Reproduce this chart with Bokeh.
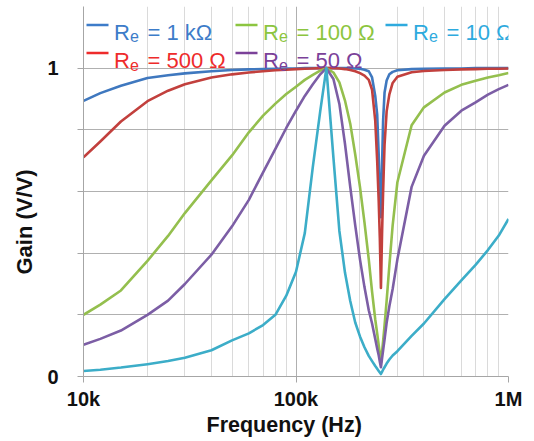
import math
from bokeh.plotting import figure
from bokeh.models import FixedTicker, Label, BoxAnnotation, Range1d, Title
from bokeh.embed import file_html
from bokeh.resources import INLINE

# ---------------- data ----------------
freq_khz = [10, 12, 15, 20, 25, 30, 40, 50, 60, 70, 80, 90, 100,
            110, 120, 130, 139, 150, 160, 170, 180, 190, 200,
            210, 220, 228, 236, 241, 245, 248, 251,
            254, 257, 261, 267, 275, 285, 300,
            350, 400, 500, 600, 700, 800, 900, 1000]

gain_1k = [0.894, 0.919, 0.943, 0.968, 0.977, 0.983, 0.990, 0.994, 0.996, 0.997, 0.998, 0.999, 0.999,
           1.0, 1.0, 1.0, 1.0, 1.0, 1.0, 1.0, 1.0, 0.999, 0.998,
           0.995, 0.99, 0.97, 0.91, 0.85, 0.72, 0.60, 0.517,
           0.68, 0.83, 0.92, 0.96, 0.98, 0.988, 0.993,
           0.997, 0.998, 0.999, 0.999, 1.0, 1.0, 1.0, 1.0]

gain_500 = [0.711, 0.762, 0.827, 0.893, 0.927, 0.948, 0.970, 0.980, 0.986, 0.990, 0.993, 0.995, 0.997,
            0.998, 0.999, 1.0, 1.0, 1.0, 0.999, 0.997, 0.994, 0.99, 0.984,
            0.976, 0.962, 0.93, 0.83, 0.70, 0.57, 0.45, 0.287,
            0.46, 0.60, 0.75, 0.86, 0.915, 0.952, 0.972,
            0.987, 0.991, 0.994, 0.996, 0.997, 0.998, 0.998, 0.999]

gain_100 = [0.200, 0.233, 0.279, 0.375, 0.456, 0.530, 0.636, 0.717, 0.792, 0.846, 0.885, 0.916, 0.940,
            0.962, 0.978, 0.992, 1.0, 0.986, 0.954, 0.895, 0.820, 0.720, 0.615,
            0.500, 0.380, 0.275, 0.185, 0.140, 0.102, 0.073, 0.045,
            0.080, 0.115, 0.165, 0.245, 0.360, 0.490, 0.630,
            0.815, 0.873, 0.921, 0.946, 0.959, 0.970, 0.977, 0.984]

gain_50 = [0.103, 0.122, 0.149, 0.200, 0.246, 0.300, 0.395, 0.487, 0.573, 0.662, 0.738, 0.806, 0.862,
           0.910, 0.948, 0.980, 1.0, 0.965, 0.884, 0.755, 0.615, 0.490, 0.380,
           0.290, 0.215, 0.172, 0.122, 0.091, 0.069, 0.048, 0.030,
           0.058, 0.085, 0.120, 0.174, 0.228, 0.284, 0.380,
           0.615, 0.716, 0.813, 0.862, 0.889, 0.914, 0.932, 0.946]

gain_10 = [0.018, 0.022, 0.029, 0.040, 0.050, 0.061, 0.085, 0.117, 0.140, 0.167, 0.200, 0.262, 0.340,
           0.465, 0.680, 0.860, 1.0, 0.710, 0.472, 0.337, 0.245, 0.175, 0.130,
           0.095, 0.067, 0.050, 0.034, 0.025, 0.018, 0.013, 0.008,
           0.015, 0.022, 0.030, 0.042, 0.055, 0.068, 0.082,
           0.132, 0.172, 0.251, 0.312, 0.362, 0.410, 0.457, 0.511]

series_names = ["1 k\u03a9", "500 \u03a9", "100 \u03a9", "50 \u03a9", "10 \u03a9"]
series_gains = [gain_1k, gain_500, gain_100, gain_50, gain_10]
line_colors = ["#3f78bf", "#c2403d", "#94bf4e", "#7c5ea5", "#3cadc8"]
text_colors = ["#3d7cc9", "#ee2b2b", "#8cc540", "#7b4199", "#2eaade"]

x_tick_values = [1e4, 1e5, 1e6]
x_tick_labels = ["10k", "100k", "1M"]
x_minor_values = [2e4, 3e4, 4e4, 5e4, 6e4, 7e4, 8e4, 9e4,
                  2e5, 3e5, 4e5, 5e5, 6e5, 7e5, 8e5, 9e5]
y_tick_values = [0, 1]
y_tick_labels = ["0", "1"]
y_grid_values = [0.2, 0.4, 0.6, 0.8, 1.0]

x_title = "Frequency (Hz)"
y_title = "Gain (V/V)"

# ---------------- figure ----------------
FONT = "Liberation Sans"
L, R, T, B = 83, 26, 6, 65
W, H = 534, 441

p = figure(width=W, height=H, x_axis_type="log",
           x_range=Range1d(1e4, 1e6), y_range=Range1d(0, 1.2),
           output_backend="svg", toolbar_location=None,
           min_border_left=L, min_border_right=R, min_border_top=T, min_border_bottom=B)
p.outline_line_color = None
p.background_fill_color = "white"
p.border_fill_color = "white"

freq_hz = [f * 1000 for f in freq_khz]
for name, g, c in zip(series_names, series_gains, line_colors):
    p.line(freq_hz, g, line_color=c, line_width=2.6, line_join="round")

# axes
xa = p.xaxis[0]
xa.ticker = FixedTicker(ticks=x_tick_values, minor_ticks=x_minor_values)
xa.major_label_overrides = {v: s for v, s in zip(x_tick_values, x_tick_labels)}
xa.axis_line_color = "#a6a6a6"
xa.major_tick_line_color = "#a6a6a6"
xa.major_tick_out = 6
xa.major_tick_in = 0
xa.minor_tick_line_color = None
xa.major_label_text_font = FONT
xa.major_label_text_font_style = "bold"
xa.major_label_text_font_size = "20px"
xa.major_label_text_color = "#111111"
xa.major_label_standoff = 5

ya = p.yaxis[0]
ya.ticker = FixedTicker(ticks=y_tick_values, minor_ticks=y_grid_values[:-1])
ya.major_label_overrides = {v: s for v, s in zip(y_tick_values, y_tick_labels)}
ya.axis_line_color = "#a6a6a6"
ya.major_tick_line_color = "#a6a6a6"
ya.minor_tick_line_color = "#a6a6a6"
ya.major_tick_out = 6
ya.major_tick_in = 0
ya.minor_tick_out = 6
ya.minor_tick_in = 0
ya.major_label_text_font = FONT
ya.major_label_text_font_style = "bold"
ya.major_label_text_font_size = "20px"
ya.major_label_text_color = "#111111"
ya.major_label_standoff = 19

p.xgrid.ticker = FixedTicker(ticks=x_tick_values, minor_ticks=x_minor_values)
p.xgrid.grid_line_color = "#b0b0b0"
p.xgrid.minor_grid_line_color = "#dadada"
p.ygrid.ticker = FixedTicker(ticks=y_grid_values)
p.ygrid.grid_line_color = "#b0b0b0"

# axis titles (placed in side panels so they are not clipped)
p.add_layout(Title(text=x_title, align="left", offset=123, vertical_align="top", standoff=0,
                   text_font=FONT, text_font_style="bold", text_font_size="21.5px",
                   text_color="#111111"), "below")
p.add_layout(Title(text=y_title, align="left", offset=102, vertical_align="bottom", standoff=16,
                   text_font=FONT, text_font_style="bold", text_font_size="22px",
                   text_color="#111111"), "left")

# legend (manual, two rows)
frame_bottom = H - B
legend_left = [86, 86, 235, 235, 385]           # canvas x of line sample start
legend_row_y = [24.5, 52.5, 24.5, 52.5, 24.5]   # canvas y of line sample
legend_base = [31.7, 60.0, 31.7, 60.0, 31.7]    # canvas y of text baseline
for i in range(len(series_names)):
    x0 = legend_left[i] - L
    yl = frame_bottom - legend_row_y[i]
    yb = frame_bottom - legend_base[i]
    col = text_colors[i]
    p.add_layout(BoxAnnotation(left=x0, right=x0 + 22, bottom=yl - 1.3, top=yl + 1.3,
                               left_units="screen", right_units="screen",
                               bottom_units="screen", top_units="screen",
                               fill_color=col, fill_alpha=1.0, line_color=None))
    p.add_layout(Label(x=x0 + 27.5, y=yb, x_units="screen", y_units="screen", text="R",
                       text_align="left", text_baseline="alphabetic", text_font=FONT,
                       text_font_size="22px", text_color=col))
    p.add_layout(Label(x=x0 + 43.5, y=yb - 4, x_units="screen", y_units="screen", text="e",
                       text_align="left", text_baseline="alphabetic", text_font=FONT,
                       text_font_size="16px", text_color=col))
    p.add_layout(Label(x=x0 + 61, y=yb, x_units="screen", y_units="screen",
                       text="= " + series_names[i],
                       text_align="left", text_baseline="alphabetic", text_font=FONT,
                       text_font_size="22px", text_color=col))

open("out.html", "w").write(file_html(p, INLINE))
